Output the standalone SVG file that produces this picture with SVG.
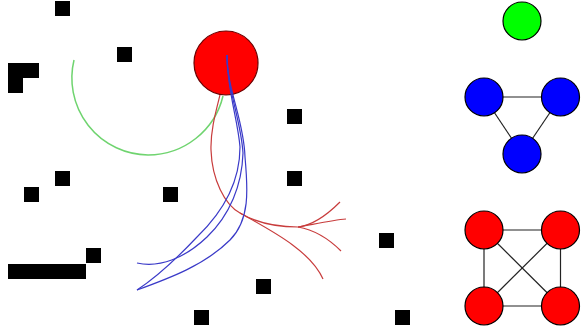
<svg xmlns="http://www.w3.org/2000/svg" width="585" height="332" viewBox="0 0 585 332">
<style>
.blk{fill:#000}
.nd{stroke:#000;stroke-width:1.2}
.edge{stroke:#222;stroke-width:1.2;fill:none}
.rc{stroke:#c83c3c;stroke-width:1.2;fill:none}
.bc{stroke:#3a3ac8;stroke-width:1.2;fill:none}
.gc{stroke:#6fd46f;stroke-width:1.5;fill:none}
</style>
<rect width="585" height="332" fill="#fff"/>
<g id="obstacles">
<rect class="blk" x="55" y="1" width="15" height="15"/>
<rect class="blk" x="117" y="47" width="15" height="15"/>
<path class="blk" d="M8 63H39V78H23V93H8Z"/>
<rect class="blk" x="287" y="109" width="15" height="15"/>
<rect class="blk" x="287" y="171" width="15" height="15"/>
<rect class="blk" x="55" y="171" width="15" height="15"/>
<rect class="blk" x="24" y="187" width="15" height="15"/>
<rect class="blk" x="163" y="187" width="15" height="15"/>
<rect class="blk" x="379" y="233" width="15" height="15"/>
<rect class="blk" x="86" y="248" width="15" height="15"/>
<rect class="blk" x="8" y="264" width="78" height="15"/>
<rect class="blk" x="256" y="279" width="15" height="15"/>
<rect class="blk" x="194" y="310" width="15" height="15"/>
<rect class="blk" x="395" y="310" width="15" height="15"/>
</g>
<g id="connectors">
<path class="gc" d="M74 60A77 77 0 0 0 148 155A77 77 0 0 0 223 96"/>
<path class="rc" d="M226 63C224 90 210 120 211 150C212 180 225 205 240 213C255 222 275 227 298 227C315 225 330 212 340 202"/>
<path class="rc" d="M298 227C315 224 333 220 346 219"/>
<path class="rc" d="M298 227C315 230 330 240 341 251"/>
<path class="rc" d="M240 213C270 230 310 250 323 279"/>
</g>
<g id="big-red-node">
<circle cx="226" cy="63" r="32" fill="#ff0000" stroke="#6a0000" stroke-width="1.2"/>
</g>
<g id="blue-connectors">
<path class="bc" d="M227 55C227 90 238 120 240 147C240 180 225 210 197 237C180 255 160 275 137 290"/>
<path class="bc" d="M227 55C227 90 241 120 243 153C242 185 230 215 207 237C185 258 160 268 137 263"/>
<path class="bc" d="M227 55C227 90 244 120 245 157C248 190 250 220 230 240C205 265 170 278 137 290"/>
</g>
<g id="graph-edges">
<line class="edge" x1="484" y1="97" x2="560.5" y2="97"/>
<line class="edge" x1="484" y1="97" x2="522" y2="154"/>
<line class="edge" x1="560.5" y1="97" x2="522" y2="154"/>
<line class="edge" x1="484" y1="230" x2="560.5" y2="230"/>
<line class="edge" x1="484" y1="306" x2="560.5" y2="306"/>
<line class="edge" x1="484" y1="230" x2="484" y2="306"/>
<line class="edge" x1="560.5" y1="230" x2="560.5" y2="306"/>
<line class="edge" x1="484" y1="230" x2="560.5" y2="306"/>
<line class="edge" x1="560.5" y1="230" x2="484" y2="306"/>
</g>
<g id="green-node"><circle class="nd" cx="522" cy="21" r="19" fill="#00ff00"/></g>
<g id="blue-1"><circle class="nd" cx="484" cy="97" r="19" fill="#0000ff"/></g>
<g id="blue-2"><circle class="nd" cx="560.5" cy="97" r="19" fill="#0000ff"/></g>
<g id="blue-3"><circle class="nd" cx="522" cy="154" r="19" fill="#0000ff"/></g>
<g id="red-1"><circle class="nd" cx="484" cy="230" r="19" fill="#ff0000"/></g>
<g id="red-2"><circle class="nd" cx="560.5" cy="230" r="19" fill="#ff0000"/></g>
<g id="red-3"><circle class="nd" cx="484" cy="306" r="19" fill="#ff0000"/></g>
<g id="red-4"><circle class="nd" cx="560.5" cy="306" r="19" fill="#ff0000"/></g>
</svg>
